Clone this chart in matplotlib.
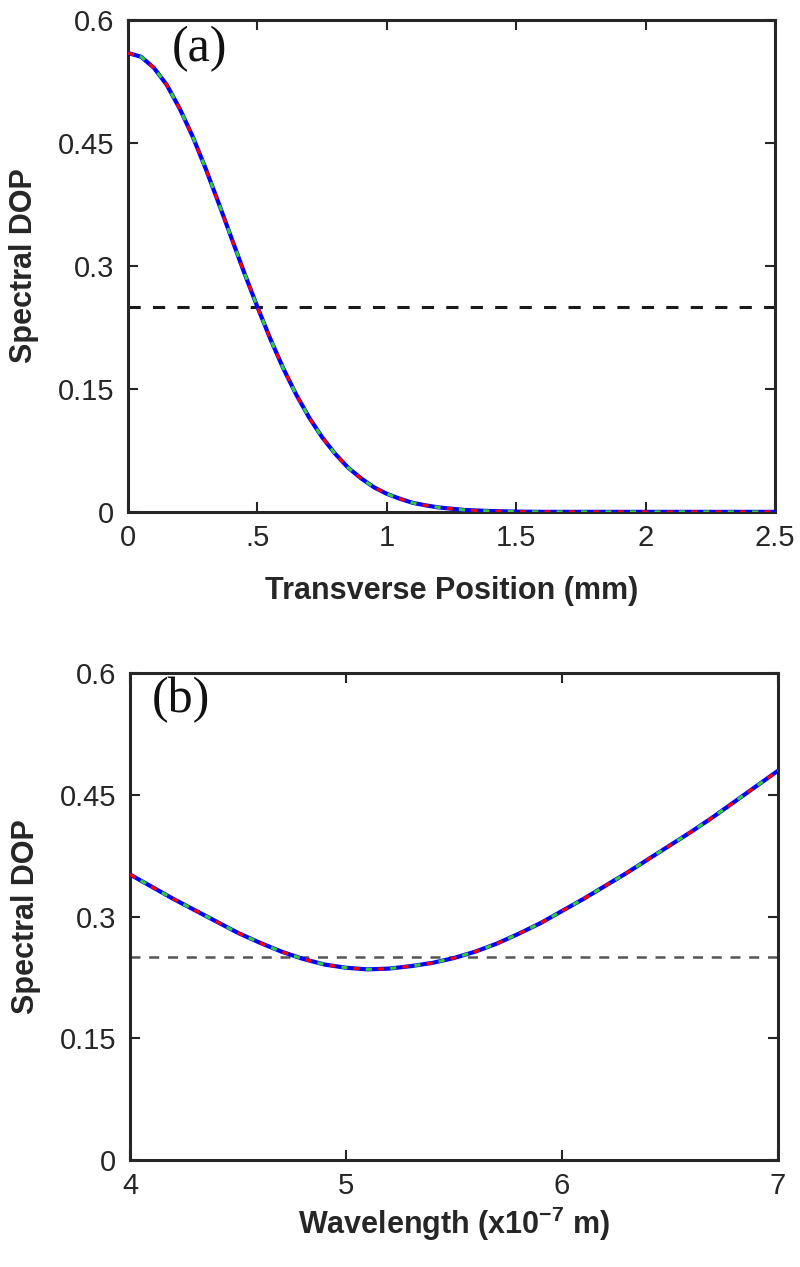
import matplotlib
matplotlib.use("Agg")
import matplotlib.pyplot as plt

# Panel (a): spectral DOP vs transverse position (mm)
pos_mm = [0.0, 0.05, 0.10, 0.15, 0.20, 0.25, 0.30, 0.35, 0.40, 0.45, 0.50,
          0.55, 0.60, 0.65, 0.70, 0.75, 0.80, 0.85, 0.90, 0.95, 1.00,
          1.05, 1.10, 1.15, 1.20, 1.30, 1.40, 1.50, 1.60, 2.00, 2.50]
dop_a = [0.560, 0.5555, 0.542, 0.521, 0.492, 0.458, 0.419, 0.377, 0.334, 0.291, 0.250,
         0.211, 0.175, 0.143, 0.115, 0.091, 0.071, 0.054, 0.041, 0.030, 0.022,
         0.016, 0.011, 0.0079, 0.0054, 0.0023, 0.0010, 0.0003, 0.0, 0.0, 0.0]

# Panel (b): spectral DOP vs wavelength (x1e-7 m)
wavelength = [4.0, 4.1, 4.2, 4.3, 4.4, 4.5, 4.6, 4.7, 4.8, 4.9, 5.0,
              5.1, 5.2, 5.3, 5.4, 5.5, 5.6, 5.7, 5.8, 5.9, 6.0,
              6.1, 6.2, 6.3, 6.4, 6.5, 6.6, 6.7, 6.8, 6.9, 7.0]
dop_b = [0.352, 0.337, 0.322, 0.308, 0.294, 0.280, 0.268, 0.257, 0.248, 0.241, 0.237,
         0.235, 0.236, 0.239, 0.243, 0.249, 0.257, 0.267, 0.279, 0.292, 0.307,
         0.322, 0.338, 0.354, 0.371, 0.388, 0.405, 0.423, 0.442, 0.461, 0.480]

threshold = 0.25
y_ticks = [0, 0.15, 0.3, 0.45, 0.6]
y_ticklabels = ["0", "0.15", "0.3", "0.45", "0.6"]
xa_ticks = [0, 0.5, 1, 1.5, 2, 2.5]
xa_ticklabels = ["0", ".5", "1", "1.5", "2", "2.5"]
xb_ticks = [4, 5, 6, 7]
xb_ticklabels = ["4", "5", "6", "7"]

plt.rcParams["font.family"] = ["Liberation Sans", "DejaVu Sans"]
plt.rcParams["mathtext.fontset"] = "custom"
plt.rcParams["mathtext.bf"] = "Liberation Sans:bold"
plt.rcParams["mathtext.rm"] = "Liberation Sans"

fig = plt.figure(figsize=(8, 12.67), dpi=100)
ax_a = fig.add_axes([0.16, 0.596, 0.809, 0.388])
ax_b = fig.add_axes([0.1625, 0.0845, 0.81, 0.384])

frame_col = "#262626"

def draw_curve(ax, x, y):
    ax.plot(x, y, color="#0000ff", lw=3.0, solid_capstyle="butt", zorder=3)
    ax.plot(x, y, color="#ff0000", lw=2.2, ls=(0, (2.0, 6.0)), zorder=4)
    ax.plot(x, y, color="#33cc33", lw=2.2, ls=(4.0, (2.0, 6.0)), zorder=4)

def style(ax):
    for s in ax.spines.values():
        s.set_linewidth(2.2)
        s.set_color(frame_col)
    ax.tick_params(direction="in", length=7, width=1.5, top=True, right=True,
                   labelsize=21, colors=frame_col)
    ax.tick_params(axis="x", pad=9)
    ax.tick_params(axis="y", pad=10)
    ax.set_yticks(y_ticks)
    ax.set_yticklabels(y_ticklabels)
    ax.set_ylim(0, 0.6)
    ax.set_ylabel("Spectral DOP", fontsize=22, fontweight="bold", color=frame_col)
    ax.yaxis.set_label_coords(-0.137, 0.5)

# panel (a)
draw_curve(ax_a, pos_mm, dop_a)
ax_a.axhline(threshold, color="#1a1a1a", lw=2.2, ls=(0, (4, 4)), zorder=2)
ax_a.set_xlim(0, 2.5)
ax_a.set_xticks(xa_ticks)
ax_a.set_xticklabels(xa_ticklabels)
style(ax_a)
ax_a.set_xlabel("Transverse Position (mm)", fontsize=22, fontweight="bold", color=frame_col)
ax_a.xaxis.set_label_coords(0.5, -0.13)
ax_a.text(0.068, 0.99, "(a)", transform=ax_a.transAxes, ha="left", va="top",
          fontsize=36, family="Liberation Serif", color="#111111")

# panel (b)
draw_curve(ax_b, wavelength, dop_b)
ax_b.axhline(threshold, color="#555555", lw=1.8, ls=(0, (4, 3.5)), zorder=2)
ax_b.set_xlim(4, 7)
ax_b.set_xticks(xb_ticks)
ax_b.set_xticklabels(xb_ticklabels)
style(ax_b)
ax_b.set_xlabel(r"Wavelength (x10$^{\mathbf{-7}}$ m)", fontsize=22, fontweight="bold", color=frame_col)
ax_b.xaxis.set_label_coords(0.5, -0.093)
ax_b.text(0.034, 0.993, "(b)", transform=ax_b.transAxes, ha="left", va="top",
          fontsize=36, family="Liberation Serif", color="#111111")

fig.savefig("out.png", dpi=100)
